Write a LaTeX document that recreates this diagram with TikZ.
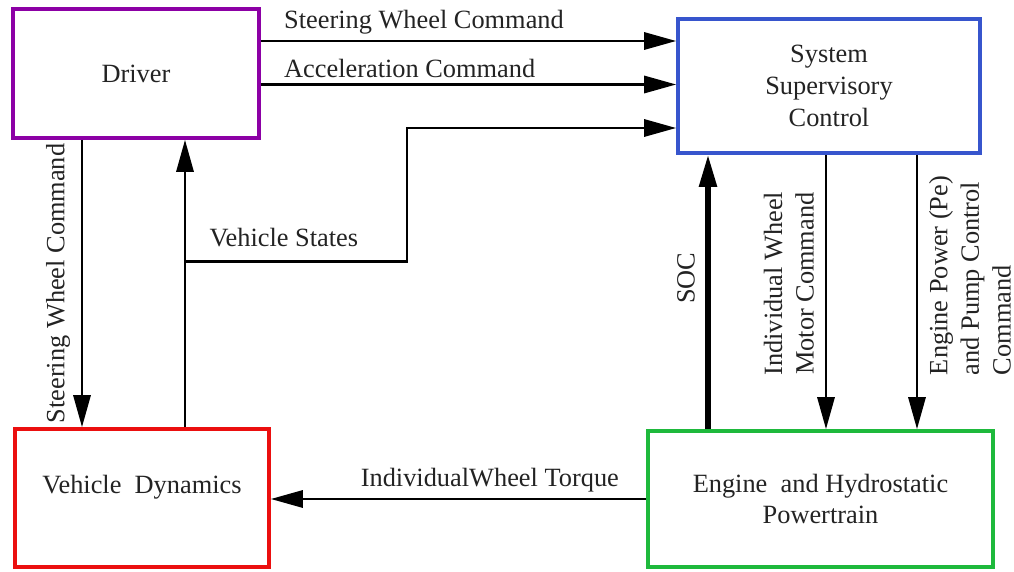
\documentclass[tikz,border=0pt]{standalone}
\usepackage{fontspec}
\setmainfont{Liberation Serif}
\usetikzlibrary{arrows.meta}
\definecolor{drvpurple}{RGB}{140,0,165}
\definecolor{sscblue}{RGB}{55,85,205}
\definecolor{vdred}{RGB}{235,15,15}
\definecolor{engreen}{RGB}{30,185,60}
\definecolor{txtgray}{RGB}{35,35,35}
\begin{document}
\begin{tikzpicture} [
   line width=1.7pt, >={Triangle[length=0.64cm,width=0.34cm]},
   font=\fontsize{15}{18}\selectfont, text=txtgray,
   b/.style={draw, rectangle, align=center, line width=2pt},
   l/.style={inner sep=3pt},
   vl/.style={rotate=90, inner sep=6pt}
]
   \useasboundingbox (0,0) rectangle (20.28,11.42);
   \node (D) [b, draw=drvpurple, minimum width=4.92cm, minimum height=2.58cm] at (2.72,9.95) {Driver};
   \node (S) [b, draw=sscblue, minimum width=6.04cm, minimum height=2.68cm] at (16.58,9.7) {System\\Supervisory\\Control};
   \node (V) [b, draw=vdred, minimum width=5.08cm, minimum height=2.76cm, text depth=0.55cm] at (2.84,1.46) {Vehicle\ \ Dynamics};
   \node (E) [b, draw=engreen, minimum width=6.9cm, minimum height=2.72cm] at (16.41,1.44) {Engine\ \ and Hydrostatic\\Powertrain};
   % connector end points
   \coordinate (d1) at ([yshift=6.5mm]D.east);
   \coordinate (d2) at ([yshift=-2.2mm]D.east);
   \coordinate (s3) at ([yshift=-8.4mm]S.west);
   \coordinate (sw) at ([xshift=-1.08cm]D.south);
   \coordinate (vs) at ([xshift=0.86cm]V.north);
   \coordinate (br) at ([yshift=3.32cm]vs);
   \coordinate (bk) at ([xshift=4.44cm]br);
   \coordinate (soc) at ([xshift=-2.42cm]S.south);
   \coordinate (iw) at ([xshift=-0.06cm]S.south);
   \coordinate (ep) at ([xshift=1.76cm]S.south);
   \path [->]
         (d1) edge node [l, pos=0.04, anchor=south west] {Steering Wheel Command} (d1 -| S.west)
         (d2) edge node [l, pos=0.04, anchor=south west] {Acceleration Command} (d2 -| S.west)
         (sw) edge node [vl, anchor=south] {Steering Wheel Command} (sw |- V.north)
         (vs) edge (vs |- D.south)
         (soc |- E.north) edge [line width=3pt] node [vl, anchor=south, pos=0.55] {SOC} (soc)
         (iw) edge node [vl, anchor=south, align=center, pos=0.47] {Individual Wheel\\Motor Command} (iw |- E.north)
         (ep) edge node [vl, anchor=north, align=left, pos=0.44] {Engine Power (Pe)\\and Pump Control\\Command} (ep |- E.north)
         (E.west) edge node [l, pos=0.055, anchor=south east] {IndividualWheel Torque} (E.west -| V.east);
   \draw [->] (br) -- node [l, pos=0.08, anchor=south west, yshift=0.15cm] {Vehicle States} (bk) |- (s3);
\end{tikzpicture}
\end{document}
